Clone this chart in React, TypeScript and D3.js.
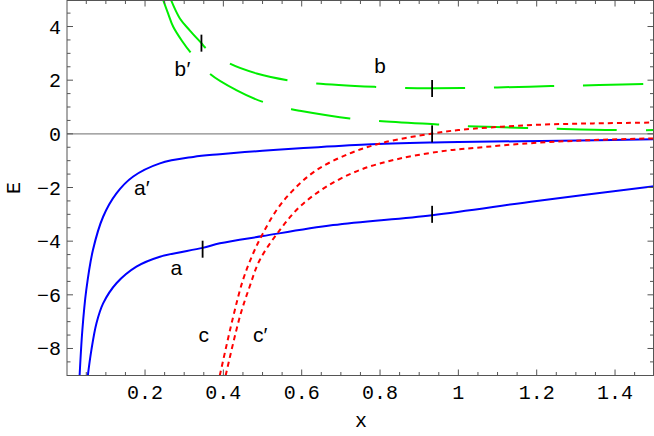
import React from "react";
import * as d3 from "d3";

// ---- data ----
const aPrimeX = [0.033, 0.040, 0.050, 0.067, 0.093, 0.127, 0.169, 0.238, 0.323, 0.391, 0.5, 0.595, 0.765, 0.936, 1.0, 1.26, 1.5];
const aPrimeE = [-9, -7.31, -5.82, -4.33, -3.09, -2.22, -1.60, -1.10, -0.86, -0.76, -0.63, -0.54, -0.40, -0.32, -0.30, -0.26, -0.20];

const aX = [0.054, 0.063, 0.076, 0.093, 0.127, 0.178, 0.238, 0.347, 0.391, 0.501, 0.680, 0.933, 1.2, 1.5];
const aE = [-9, -8.06, -7.06, -6.32, -5.57, -4.95, -4.58, -4.25, -4.08, -3.81, -3.40, -3.03, -2.5, -1.95];

const cX = [0.391, 0.425, 0.450, 0.476, 0.501, 0.536, 0.578, 0.638, 0.723, 0.808, 0.933, 1.0, 1.174, 1.344, 1.5];
const cE = [-9, -6.82, -5.45, -4.46, -3.71, -2.84, -2.10, -1.35, -0.73, -0.33, 0.01, 0.14, 0.32, 0.39, 0.42];

const cPrimeX = [0.406, 0.442, 0.467, 0.493, 0.544, 0.595, 0.663, 0.748, 0.851, 0.978, 1.0, 1.174, 1.344, 1.5];
const cPrimeE = [-9, -6.82, -5.70, -4.70, -3.59, -2.72, -1.97, -1.35, -0.92, -0.61, -0.58, -0.36, -0.23, -0.17];

const bX = [0.266, 0.289, 0.314, 0.344, 0.355, 0.416, 0.485, 0.564, 0.636, 0.789, 0.861, 0.933, 1.01, 1.1, 1.236, 1.36, 1.5];
const bE = [5.0, 4.30, 3.86, 3.38, 3.2, 2.62, 2.25, 2.0, 1.88, 1.75, 1.71, 1.70, 1.71, 1.73, 1.78, 1.82, 1.87];

const bPrimeX = [0.246, 0.259, 0.272, 0.295, 0.317, 0.367, 0.433, 0.501, 0.574, 0.595, 0.723, 0.795, 0.947, 1.02, 1.172, 1.245, 1.398, 1.5];
const bPrimeE = [5.0, 4.48, 3.99, 3.45, 3.02, 2.22, 1.63, 1.19, 0.92, 0.86, 0.57, 0.48, 0.35, 0.29, 0.22, 0.19, 0.14, 0.14];

const markerX = [0.344, 0.347, 0.933, 0.933, 0.933];
const markerE = [3.38, -4.3, 1.69, 0, -3.0];

const labelBase = ["a", "a", "b", "b", "c", "c"];
const labelPrime = [true, false, true, false, false, true];
const labelX = [0.192, 0.280, 0.295, 0.80, 0.350, 0.494];
const labelE = [-2.28, -5.26, 2.15, 2.25, -7.75, -7.75];
const labelMono = [false, false, true, true, false, false];

const xMajor = [0.2, 0.4, 0.6, 0.8, 1.0, 1.2, 1.4];
const xMajorLabels = ["0.2", "0.4", "0.6", "0.8", "1", "1.2", "1.4"];
const yMajor = [-8, -6, -4, -2, 0, 2, 4];
const yMajorLabels = ["\u22128", "\u22126", "\u22124", "\u22122", "0", "2", "4"];

const W = 654, H = 436;

export default function App() {
  const x = d3.scaleLinear().domain([0, 1.5]).range([66.7, 654.2]);
  const y = d3.scaleLinear().domain([-9, 5]).range([375.3, -0.3]);
  const left = 67, right = 653.5, top = 0.5, bottom = 375.5;

  const line = d3.line<[number, number]>().x(d => x(d[0])).y(d => y(d[1])).curve(d3.curveCatmullRom.alpha(0.5));
  const mk = (xs: number[], es: number[]) => line(xs.map((v, i) => [v, es[i]] as [number, number])) || "";

  const xMinor = d3.range(1, 30).map(i => i * 0.05).filter(v => !xMajor.some(m => Math.abs(m - v) < 1e-6));
  const yMinor = d3.range(-17, 10).map(i => i * 0.5).filter(v => !yMajor.some(m => Math.abs(m - v) < 1e-6));

  const frameColor = "#555";
  const mono = "'Liberation Mono', 'Courier New', monospace";
  const sans = "'Liberation Sans', Arial, sans-serif";

  return (
    <svg width={W} height={H} style={{ position: "absolute", left: 0, top: 0, background: "#fff" }}>
      <defs>
        <clipPath id="plot">
          <rect x={left} y={0} width={right - left} height={bottom} />
        </clipPath>
      </defs>
      {/* zero axis */}
      <line x1={left} x2={right} y1={y(0)} y2={y(0)} stroke="#8a8a8a" strokeWidth={1.4} />
      <g clipPath="url(#plot)" fill="none">
        <path d={mk(aPrimeX, aPrimeE)} stroke="#0000ff" strokeWidth={2} />
        <path d={mk(aX, aE)} stroke="#0000ff" strokeWidth={2} />
        <path d={mk(bX, bE)} stroke="#00ee00" strokeWidth={2} strokeDasharray="60,29" />
        <path d={mk(bPrimeX, bPrimeE)} stroke="#00ee00" strokeWidth={2} strokeDasharray="60,29" />
        <path d={mk(cX, cE)} stroke="#ff0000" strokeWidth={2} strokeDasharray="5,4" />
        <path d={mk(cPrimeX, cPrimeE)} stroke="#ff0000" strokeWidth={2} strokeDasharray="5,4" />
      </g>
      {/* markers */}
      {markerX.map((mx, i) => (
        <line key={"m" + i} x1={x(mx)} x2={x(mx)} y1={y(markerE[i]) - 8.5} y2={y(markerE[i]) + 8.5} stroke="#000" strokeWidth={1.8} />
      ))}
      {/* frame */}
      <rect x={left} y={top} width={right - left} height={bottom - top} fill="none" stroke={frameColor} strokeWidth={1} />
      {/* ticks */}
      {xMajor.map((v, i) => (
        <g key={"xm" + i}>
          <line x1={x(v)} x2={x(v)} y1={bottom} y2={bottom - 6} stroke={frameColor} />
          <line x1={x(v)} x2={x(v)} y1={top} y2={top + 6} stroke={frameColor} />
          <text x={x(v)} y={398.5} textAnchor="middle" fontFamily={mono} fontSize={20} fill="#000">{xMajorLabels[i]}</text>
        </g>
      ))}
      {xMinor.map((v, i) => (
        <g key={"xn" + i}>
          <line x1={x(v)} x2={x(v)} y1={bottom} y2={bottom - 3.5} stroke={frameColor} />
          <line x1={x(v)} x2={x(v)} y1={top} y2={top + 3.5} stroke={frameColor} />
        </g>
      ))}
      {yMajor.map((v, i) => (
        <g key={"ym" + i}>
          <line x1={left} x2={left + 6} y1={y(v)} y2={y(v)} stroke={frameColor} />
          <line x1={right} x2={right - 6} y1={y(v)} y2={y(v)} stroke={frameColor} />
          <text x={61} y={y(v)} dy="0.35em" textAnchor="end" fontFamily={mono} fontSize={20} fill="#000">{yMajorLabels[i]}</text>
        </g>
      ))}
      {yMinor.map((v, i) => (
        <g key={"yn" + i}>
          <line x1={left} x2={left + 3.5} y1={y(v)} y2={y(v)} stroke={frameColor} />
          <line x1={right} x2={right - 3.5} y1={y(v)} y2={y(v)} stroke={frameColor} />
        </g>
      ))}
      {/* curve labels */}
      {labelBase.map((t, i) => (
        <text key={"l" + i} x={x(labelX[i])} y={y(labelE[i])} textAnchor="middle" fontFamily={labelMono[i] ? mono : sans} fontSize={21} fill="#000">
          {t}
          {labelPrime[i] ? <tspan fontFamily={sans}>{"\u2032"}</tspan> : null}
        </text>
      ))}
      {/* axis labels */}
      <text x={361} y={426.5} textAnchor="middle" fontFamily={mono} fontSize={20} fill="#000">x</text>
      <text transform="translate(20,188) rotate(-90)" textAnchor="middle" fontFamily={mono} fontSize={20} fill="#000">E</text>
    </svg>
  );
}
